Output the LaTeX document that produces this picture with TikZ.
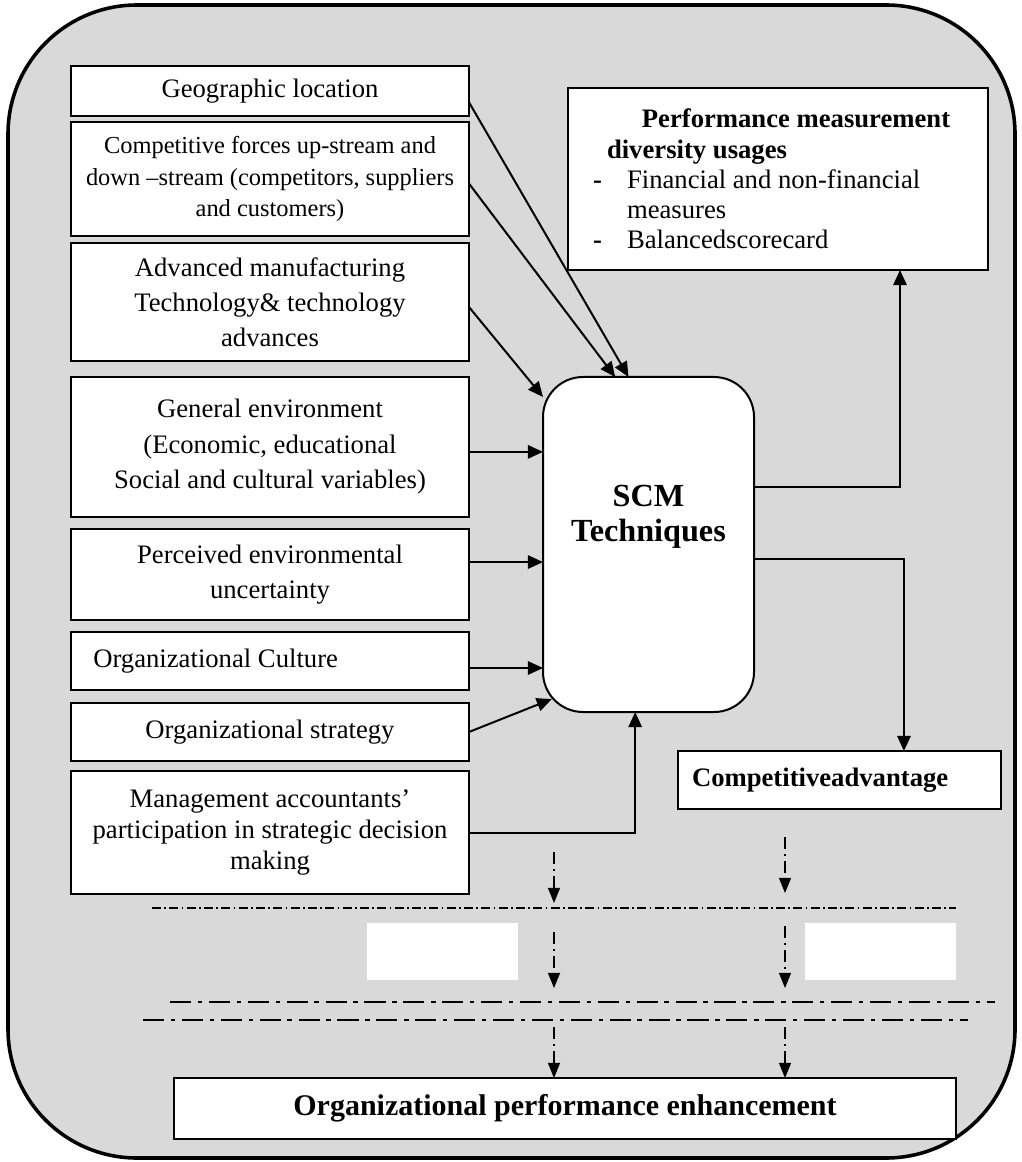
\documentclass[tikz,border=0pt]{standalone}
\usepackage{fontspec}
\setmainfont{Liberation Serif}
\usetikzlibrary{arrows.meta,positioning}
\definecolor{panelgray}{RGB}{217,217,217}

\begin{document}
\begin{tikzpicture}[x=0.45pt,y=-0.45pt,
 box/.style={draw,line width=0.9pt,fill=white,align=center,minimum width=179pt,inner sep=2pt,outer sep=0pt,font=\fontsize{12}{15.75}\selectfont},
 arr/.style={-{Triangle[length=6.8pt,width=6pt]},line width=0.9pt},
 flow/.style={-{Triangle[length=6.8pt,width=5.4pt]},line width=0.6pt,dash pattern=on 5.4pt off 2.2pt on 0.9pt off 2.2pt},
 thinsep/.style={line width=0.5pt,dash pattern=on 4pt off 1.5pt on 0.8pt off 1.5pt},
 thicksep/.style={line width=1.3pt,dash pattern=on 9.5pt off 3pt on 2pt off 3pt}]
 \useasboundingbox (0,0) rectangle (1021,1162);
 \draw[line width=1.6pt,fill=panelgray,rounded corners=58pt] (8,5) rectangle (1015,1158);
 \fill[white] (367,923) rectangle (518,980);
 \fill[white] (805,923) rectangle (956,980);
 \coordinate (s1w) at (152,908); \coordinate (s1e) at (956,908);
 \coordinate (s2w) at (170,1002); \coordinate (s2e) at (995,1002);
 \coordinate (s3w) at (143,1020); \coordinate (s3e) at (968,1020);
 \draw[thinsep] (s1w) -- (s1e); \draw[thicksep] (s2w) -- (s2e); \draw[thicksep] (s3w) -- (s3e);
 \node[box,minimum height=22.5pt] (geo) at (270,91) {Geographic location};
 \node[box,minimum height=51.3pt,below=2.7pt of geo,font=\fontsize{11}{14.3}\selectfont] (comp) {Competitive forces up-stream and\\down --stream (competitors, suppliers\\and customers)};
 \node[box,minimum height=53.1pt,below=3.15pt of comp] (amt) {Advanced manufacturing\\Technology\& technology\\advances};
 \node[box,minimum height=63pt,below=7.2pt of amt,font=\fontsize{12}{16}\selectfont] (genv) {General environment\\(Economic, educational\\Social and cultural variables)};
 \node[box,minimum height=40.95pt,below=5.4pt of genv] (peu) {Perceived environmental\\uncertainty};
 \node[box,minimum height=26.1pt,below=5.4pt of peu,align=flush left,text width=159pt] (cult) {Organizational Culture};
 \node[box,minimum height=26.1pt,below=5.85pt of cult] (strat) {Organizational strategy};
 \node[box,minimum height=55.35pt,below=4.5pt of strat,font=\fontsize{12}{14}\selectfont] (mgmt) {Management accountants'\\participation in strategic decision\\making};
 \node[box,minimum width=189pt,minimum height=81.9pt,align=flush left,text width=166.5pt,font=\fontsize{12}{13.6}\selectfont] (pm) at (778,179) {\hspace*{22pt}\textbf{Performance measurement}\\\hspace*{6.3pt}\textbf{diversity usages}\\\makebox[15.3pt][l]{\textbf{-}}Financial and non-financial\\\hspace*{15.3pt}measures\\\makebox[15.3pt][l]{\textbf{-}}Balancedscorecard};
 \node[box,rounded corners=18pt,minimum width=94.95pt,minimum height=150.75pt,text depth=28.5pt,font=\fontsize{14.5}{15.75}\selectfont\bfseries] (scm) at (648.5,544.5) {SCM\\Techniques};
 \node[box,minimum width=145.35pt,minimum height=26.1pt,align=flush left,text width=132.75pt,font=\fontsize{12}{15}\selectfont\bfseries] (cadv) at (839.5,780) {Competitiveadvantage};
 \node[box,minimum width=351.9pt,minimum height=27.45pt,font=\fontsize{13.5}{16}\selectfont\bfseries] (ope) at (565,1108.5) {Organizational performance enhancement};
 \draw[arr] ([yshift=-5pt]geo.east) -- ([xshift=-9pt]scm.north);
 \draw[arr] ([yshift=-2pt]comp.east) -- ([xshift=-15pt]scm.north);
 \draw[arr] ([yshift=-2.2pt]amt.east) -- ([yshift=-9pt]scm.north west);
 \draw[arr] ([yshift=-2.2pt]genv.east) -- ([yshift=-2.2pt]genv.east -| scm.west);
 \draw[arr] ([yshift=5.6pt]peu.east) -- ([yshift=5.6pt]peu.east -| scm.west);
 \draw[arr] ([yshift=-3.15pt]cult.east) -- ([yshift=-3.15pt]cult.east -| scm.west);
 \draw[arr] (strat.east) -- ([xshift=4pt,yshift=5.85pt]scm.south west);
 \draw[arr] (mgmt.east) -| ([xshift=-6pt]scm.south);
 \draw[arr] ([yshift=25.9pt]scm.east) -| ([xshift=54.9pt]pm.south);
 \draw[arr] ([yshift=-6.5pt]scm.east) -| ([xshift=29pt]cadv.north);
 \coordinate (la) at (554,852); \coordinate (lb) at (554,903); \coordinate (lc) at (554,932); \coordinate (ld) at (554,988); \coordinate (le) at (554,1027);
 \coordinate (ra) at (785,837); \coordinate (rb) at (785,893); \coordinate (rc) at (785,926); \coordinate (rd) at (785,988); \coordinate (re) at (785,1027);
 \draw[flow] (la) -- (lb); \draw[flow] (lc) -- (ld); \draw[flow] (le) -- (le |- ope.north);
 \draw[flow] (ra) -- (rb); \draw[flow] (rc) -- (rd); \draw[flow] (re) -- (re |- ope.north);
\end{tikzpicture}
\end{document}
